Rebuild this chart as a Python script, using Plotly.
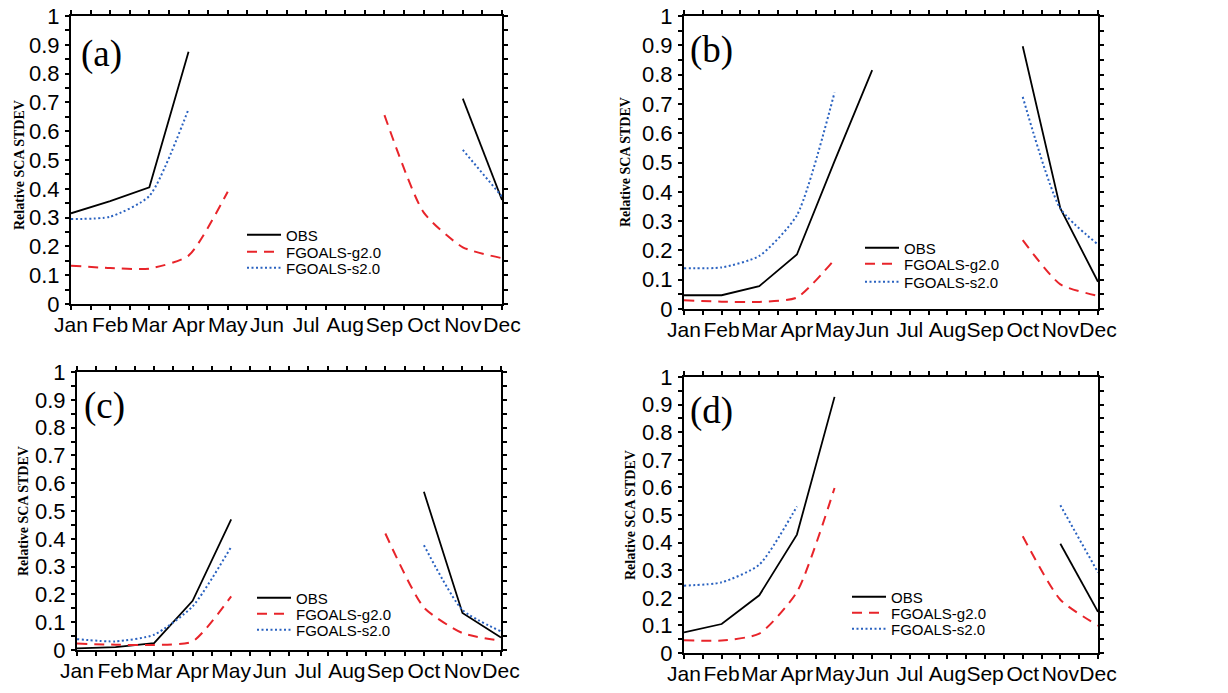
import plotly.graph_objects as go

months = ["Jan", "Feb", "Mar", "Apr", "May", "Jun", "Jul", "Aug", "Sep", "Oct", "Nov", "Dec"]
month_idx = list(range(12))
N = None

# Panel (a)
obs_a = [0.315, 0.357, 0.405, 0.876, N, N, N, N, N, N, 0.713, 0.361]
g2_a = [0.133, 0.125, 0.123, 0.168, 0.39, N, N, N, 0.656, 0.318, 0.197, 0.159]
s2_a = [0.295, 0.303, 0.375, 0.677, N, N, N, N, N, N, 0.535, 0.373]
# Panel (b)
obs_b = [0.047, 0.047, 0.078, 0.186, 0.505, 0.815, N, N, N, 0.897, 0.343, 0.093]
g2_b = [0.030, 0.025, 0.024, 0.039, 0.169, N, N, N, N, 0.235, 0.084, 0.045]
s2_b = [0.139, 0.142, 0.181, 0.320, 0.739, N, N, N, N, 0.724, 0.343, 0.220]
# Panel (c)
obs_c = [0.006, 0.010, 0.025, 0.177, 0.470, N, N, N, N, 0.569, 0.133, 0.045]
g2_c = [0.023, 0.019, 0.018, 0.031, 0.193, N, N, N, 0.419, 0.153, 0.061, 0.033]
s2_c = [0.039, 0.031, 0.055, 0.157, 0.371, N, N, N, N, 0.377, 0.144, 0.067]
# Panel (d)
obs_d = [0.075, 0.105, 0.209, 0.429, 0.928, N, N, N, N, N, 0.396, 0.149]
g2_d = [0.046, 0.045, 0.070, 0.221, 0.598, N, N, N, N, 0.423, 0.193, 0.099]
s2_d = [0.244, 0.256, 0.320, 0.531, N, N, N, N, N, N, 0.535, 0.292]

series_names = ["OBS", "FGOALS-g2.0", "FGOALS-s2.0"]
panel_labels = ["(a)", "(b)", "(c)", "(d)"]
y_title = "Relative SCA STDEV"
y_ticks = [0, 0.1, 0.2, 0.3, 0.4, 0.5, 0.6, 0.7, 0.8, 0.9, 1]
y_ticktext = ["0", "0.1", "0.2", "0.3", "0.4", "0.5", "0.6", "0.7", "0.8", "0.9", "1"]

panels = [(obs_a, g2_a, s2_a), (obs_b, g2_b, s2_b), (obs_c, g2_c, s2_c), (obs_d, g2_d, s2_d)]

W, H = 1228, 693
# pixel boxes: left, right, top, bottom
boxes = [(71, 502, 16, 304), (684, 1098, 16, 309), (77, 501, 372, 650), (684, 1098, 377, 653)]
# legend: line start x, row centre y for each of the three rows
legend_x = [247, 865, 257, 852]
legend_rows = [(235, 252, 268), (248, 264, 282), (598, 614, 630), (597, 613, 629)]
label_pos = [(101, 54), (711, 50), (104, 406), (711, 411)]
ytitle_pos = [(19, 165), (626, 162), (23, 511), (630, 515)]

RED = "#e8242a"
BLUE = "#2a62c0"
styles = [dict(color="black", width=1.8, dash="solid", shape="linear"),
          dict(color=RED, width=2, dash="10px,7px", shape="spline"),
          dict(color=BLUE, width=2, dash="2px,2.5px", shape="spline")]

fig = go.Figure()
layout = dict(width=W, height=H, margin=dict(l=0, r=0, t=0, b=0, autoexpand=False),
              paper_bgcolor="white", plot_bgcolor="white", showlegend=True,
              font=dict(family="Liberation Sans, Arial", color="black"),
              annotations=[])

lg_count = 0
for i, data in enumerate(panels):
    sfx = "" if i == 0 else str(i + 1)
    for j, (name, vals, st) in enumerate(zip(series_names, data, styles)):
        lg_count += 1
        lg = "legend" if lg_count == 1 else "legend" + str(lg_count)
        fig.add_trace(go.Scatter(
            x=month_idx, y=vals, mode="lines", name=name, showlegend=True,
            line=dict(color=st["color"], width=st["width"], dash=st["dash"],
                      shape=st["shape"], smoothing=0.6 if st["shape"] == "spline" else None),
            connectgaps=False, xaxis="x" + sfx, yaxis="y" + sfx, legend=lg,
            hoverinfo="skip"))
        layout[lg] = dict(x=(legend_x[i] - 5) / W, y=1 - legend_rows[i][j] / H,
                          xanchor="left", yanchor="middle",
                          bgcolor="rgba(0,0,0,0)", borderwidth=0, itemwidth=34,
                          font=dict(size=15, family="Liberation Sans, Arial", color="black"))
    l, r, t, b = boxes[i]
    layout["xaxis" + sfx] = dict(
        domain=[l / W, r / W], anchor="y" + sfx, range=[0, 11], automargin=False,
        tickmode="array", tickvals=month_idx, ticktext=months, tickangle=0,
        ticks="outside", ticklen=4, tickwidth=1.5, tickcolor="black",
        minor=dict(dtick=0.5, tick0=0, ticks="outside", ticklen=4, tickwidth=1.5, tickcolor="black"),
        showline=True, linecolor="black", linewidth=2, mirror="ticks",
        showgrid=False, zeroline=False, ticklabelstandoff=-3,
        tickfont=dict(size=21, family="Liberation Sans, Arial", color="black"))
    layout["yaxis" + sfx] = dict(
        domain=[1 - b / H, 1 - t / H], anchor="x" + sfx, range=[0, 1], automargin=False,
        tickmode="array", tickvals=y_ticks, ticktext=y_ticktext,
        ticks="outside", ticklen=4, tickwidth=1.5, tickcolor="black",
        minor=dict(dtick=0.05, tick0=0, ticks="outside", ticklen=4, tickwidth=1.5, tickcolor="black"),
        showline=True, linecolor="black", linewidth=2, mirror="ticks",
        showgrid=False, zeroline=False, ticklabelstandoff=1,
        tickfont=dict(size=22, family="Liberation Sans, Arial", color="black"))
    px, py = label_pos[i]
    layout["annotations"].append(dict(
        text=panel_labels[i], x=px / W, y=1 - py / H, xref="paper", yref="paper",
        xanchor="center", yanchor="middle", showarrow=False,
        font=dict(size=37, family="Liberation Serif, Times New Roman", color="black")))
    tx, ty = ytitle_pos[i]
    layout["annotations"].append(dict(
        text="<b>" + y_title + "</b>", x=tx / W, y=1 - ty / H, xref="paper", yref="paper",
        xanchor="center", yanchor="middle", showarrow=False, textangle=-90,
        font=dict(size=14, family="Liberation Serif, Times New Roman", color="black")))

fig.update_layout(**layout)
fig.write_html("out.html", config={"displayModeBar": False},
               post_script="document.body.style.margin='0';document.body.style.overflow='hidden';")
